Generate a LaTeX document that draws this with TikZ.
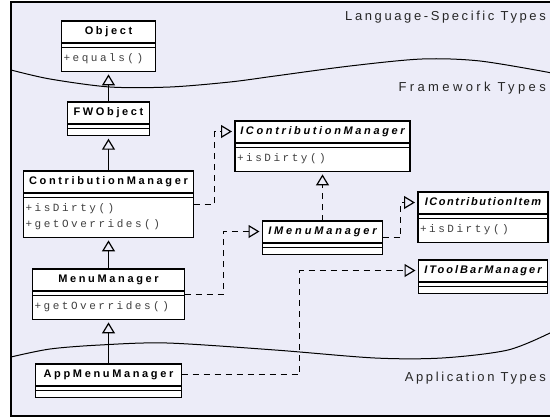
\documentclass[tikz,border=0pt]{standalone}
\usepackage{fontspec}
\usetikzlibrary{shapes.multipart, arrows.meta, calc}
\newfontfamily\clsfont{Liberation Sans}
\newfontfamily\opfont[LetterSpace=23]{Liberation Mono}
\newfontfamily\lanefont[LetterSpace=20]{Liberation Sans}
\definecolor{lanebg}{RGB}{236,236,248}
% compartments: name, (empty) attributes, operations
\newcommand\clsname[2][24]{{\clsfont\bfseries\addfontfeature{LetterSpace=#1}\rule[-6pt]{0pt}{17.8pt}#2}}
\newcommand\ifcname[2][24]{{\clsfont\bfseries\itshape\addfontfeature{LetterSpace=#1}\rule[-6pt]{0pt}{17.8pt}#2}}
\newcommand\noattr{\rule{0pt}{0.5pt}}
\newcommand\noops{\rule{0pt}{2.8pt}}
\newcommand\ops[1]{{\color{black!75}\begin{tabular}{@{}l@{}}\rule{0pt}{12pt}#1\rule[-7.5pt]{0pt}{0pt}\end{tabular}}}

\begin{document}
\begin{tikzpicture}[x=1pt, y=-1pt,
    cls/.style={draw, line width=1.2pt, fill=white, rectangle split, rectangle split parts=3,
                rectangle split part align={center,left,left},
                inner xsep=2pt, inner ysep=1.5pt, outer sep=0pt, anchor=north,
                font=\opfont\fontsize{11}{16}\selectfont},
    lane/.style={font=\lanefont\fontsize{13}{15}\selectfont, text=black!85, anchor=base east, inner sep=0pt},
    inh/.style={-{Triangle[open, length=11pt, width=13pt]}, line width=1.2pt, shorten >=3pt},
    real/.style={inh, dashed, dash pattern=on 6pt off 5pt}
  ]
  \useasboundingbox (0,0) rectangle (550,418);

  % swimlanes
  \fill[lanebg] (11,2) rectangle (560,416);
  \draw[line width=1.2pt] (11,2) rectangle (560,416);
  \draw[line width=1pt] plot[smooth] coordinates {(11,70) (50,79) (110,87) (170,87) (230,82) (275,76)
                                     (350,66) (422,59) (480,61) (552,73)};
  \draw[line width=1pt] plot[smooth] coordinates {(11,357) (50,349) (100,345) (167,343) (275,350)
                                     (375,358) (442,358) (508,350) (552,332)};
  \node[lane] (langlbl) at (546,20)  {Language-Specific Types};
  \node[lane] (fwlbl)   at (546,91)  {\addfontfeature{LetterSpace=26}Framework Types};
  \node[lane] (applbl)  at (546,381) {Application Types};

  % classes
  \node[cls, minimum width=94pt]  (object) at (108.5,21)  {\clsname{Object}\nodepart{two}\noattr\nodepart{three}\ops{+equals()}};
  \node[cls, minimum width=82pt]  (fwobj)  at (108.5,102) {\clsname{FWObject}\nodepart{two}\noattr\nodepart{three}\noops};
  \node[cls, minimum width=170pt] (cmgr)   at (108.5,171) {\clsname{ContributionManager}\nodepart{two}\noattr
      \nodepart{three}\ops{+isDirty()\\+getOverrides()}};
  \node[cls, minimum width=152pt] (mmgr)   at (108.5,269) {\clsname{MenuManager}\nodepart{two}\noattr\nodepart{three}\ops{+getOverrides()}};
  \node[cls, minimum width=146pt] (appmgr) at (108.5,364) {\clsname{AppMenuManager}\nodepart{two}\noattr\nodepart{three}\noops};

  % interfaces
  \node[cls, minimum width=175pt] (icmgr)  at (322.5,121) {\ifcname{IContributionManager}\nodepart{two}\noattr\nodepart{three}\ops{+isDirty()}};
  \node[cls, minimum width=120pt] (immgr)  at (322.5,221) {\ifcname[26]{IMenuManager}\nodepart{two}\noattr\nodepart{three}\noops};
  \node[cls, minimum width=130pt] (icitem) at (483,192) {\ifcname[14]{IContributionItem}\nodepart{two}\noattr\nodepart{three}\ops{+isDirty()}};
  \node[cls, minimum width=129pt] (itbmgr) at (483,260) {\ifcname[18]{IToolBarManager}\nodepart{two}\noattr\nodepart{three}\noops};

  % generalization
  \draw[inh] (fwobj.north) -- (object.south);
  \draw[inh] (cmgr.north) -- (fwobj.south);
  \draw[inh] (mmgr.north) -- (cmgr.south);
  \draw[inh] (appmgr.north) -- (mmgr.south);

  % realization
  \draw[real] (cmgr.east) -- ++(21,0) |- ($(icmgr.north west)+(0,10.5)$);
  \draw[real] (immgr.north) -- (icmgr.south);
  \draw[real] (mmgr.east) -- ++(39,0) |- ($(immgr.north west)+(0,10.5)$);
  \draw[real] (immgr.east) -- ++(18,0) |- ($(icitem.north west)+(0,10.5)$);
  \draw[real] ($(appmgr.north east)+(0,10.5)$) -- ++(118,0) |- ($(itbmgr.north west)+(0,10.5)$);
\end{tikzpicture}
\end{document}
